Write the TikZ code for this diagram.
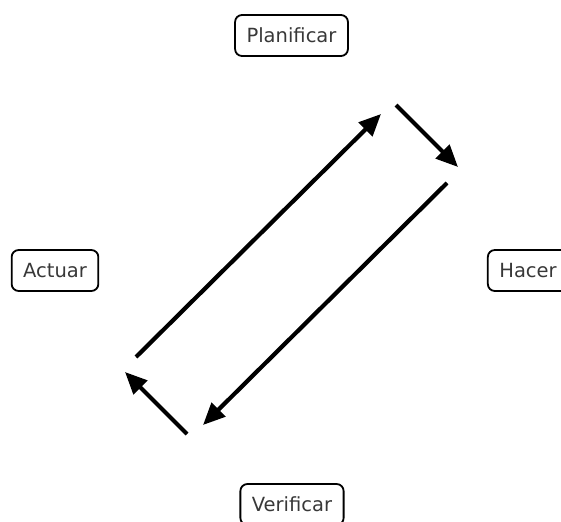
\documentclass[tikz,border=0pt]{standalone}
\usepackage{fontspec}
\setmainfont{DejaVu Sans}
\usetikzlibrary{arrows.meta,positioning,calc}

\begin{document}
\begin{tikzpicture}[x=1pt, y=-1pt]
\tikzstyle{phase}=[rectangle, rounded corners=7pt, draw=black, line width=1.8pt, text=black!78, font=\fontsize{19.5}{24}\selectfont, inner xsep=11.5pt, minimum height=41pt]
\tikzstyle{connect}=[-{Triangle[length=22pt, width=19pt]}, line width=4.2pt]

  \useasboundingbox (0,0) rectangle (561,521);

  \node[phase] (plan)  at (291.5,35.5) {Planificar};
  \node[phase] (hacer) at (528,270.5)  {Hacer};
  \node[phase] (verif) at (292,504.5)  {Verificar};
  \node[phase] (act)   at (55,270.5)   {Actuar};

  % extremos de las flechas
  \coordinate (a1) at (136,357);  \coordinate (b1) at (381,114);
  \coordinate (a2) at (396,105);  \coordinate (b2) at (458,167);
  \coordinate (a3) at (447,183);  \coordinate (b3) at (203,425);
  \coordinate (a4) at (187,434);  \coordinate (b4) at (125,372);

  \draw[connect] (a1) -- (b1);
  \draw[connect] (a2) -- (b2);
  \draw[connect] (a3) -- (b3);
  \draw[connect] (a4) -- (b4);

\end{tikzpicture}
\end{document}
